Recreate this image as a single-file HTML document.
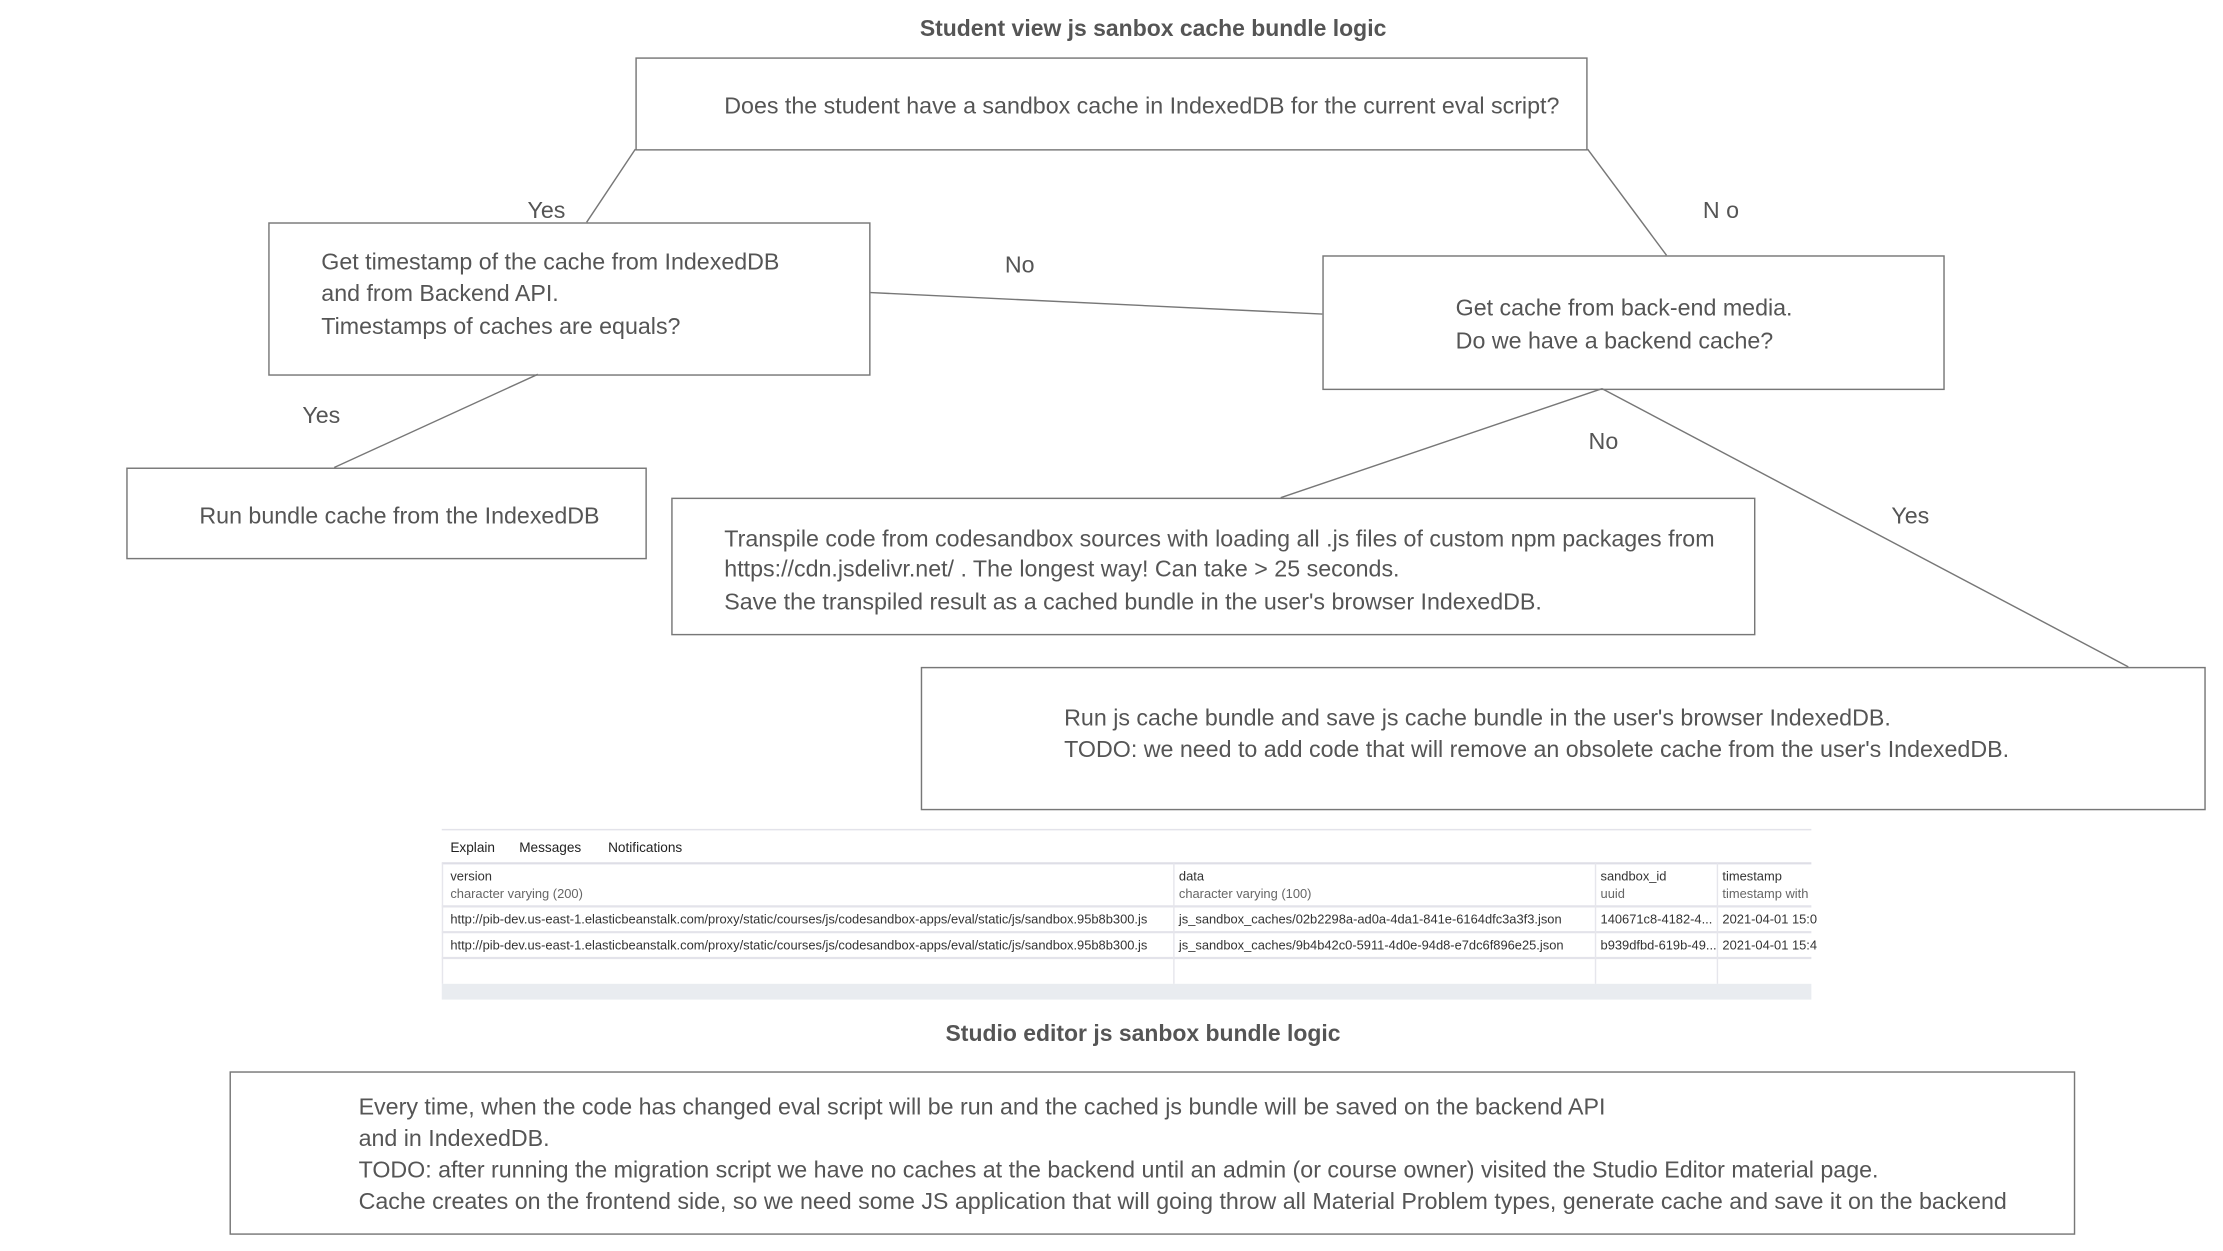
<!DOCTYPE html>
<html><head><meta charset="utf-8"><style>
html,body{margin:0;padding:0;background:#fff;}
svg{display:block}
text{font-family:"Liberation Sans",sans-serif;fill:#555;}
</style></head><body>
<svg width="2223" height="1251" viewBox="0 0 1550 872.3" xmlns="http://www.w3.org/2000/svg">
<rect width="1550" height="873" fill="#fff"/>
<g font-size="16.2">
<text x="804" y="25" text-anchor="middle" font-weight="bold" font-size="16">Student view js sanbox cache bundle logic</text>
<g fill="none" stroke="#777" stroke-width="1">
<rect x="443.5" y="40.5" width="663" height="64"/>
<rect x="187.5" y="155.5" width="419" height="106"/>
<rect x="922.5" y="178.5" width="433" height="93"/>
<rect x="88.5" y="326.5" width="362" height="63"/>
<rect x="468.5" y="347.5" width="755" height="95"/>
<rect x="642.5" y="465.5" width="895" height="99"/>
<rect x="160.5" y="747.5" width="1286" height="113"/>
<line x1="443" y1="104" x2="409" y2="155"/>
<line x1="1107" y1="104" x2="1162" y2="178"/>
<line x1="607" y1="204" x2="922" y2="219"/>
<line x1="375" y1="261" x2="233" y2="326"/>
<line x1="1117" y1="271" x2="893" y2="347"/>
<line x1="1117" y1="271" x2="1484" y2="465"/>
</g>
<text x="505" y="79">Does the student have a sandbox cache in IndexedDB for the current eval script?</text>
<text x="224" y="188">Get timestamp of the cache from IndexedDB</text>
<text x="224" y="210">and from Backend API.</text>
<text x="224" y="233">Timestamps of caches are equals?</text>
<text x="1015" y="220">Get cache from back-end media.</text>
<text x="1015" y="243">Do we have a backend cache?</text>
<text x="139" y="365">Run bundle cache from the IndexedDB</text>
<text x="505" y="381">Transpile code from codesandbox sources with loading all .js files of custom npm packages from</text>
<text x="505" y="402">https://cdn.jsdelivr.net/ . The longest way! Can take &gt; 25 seconds.</text>
<text x="505" y="425">Save the transpiled result as a cached bundle in the user's browser IndexedDB.</text>
<text x="742" y="506">Run js cache bundle and save js cache bundle in the user's browser IndexedDB.</text>
<text x="742" y="528">TODO: we need to add code that will remove an obsolete cache from the user's IndexedDB.</text>
<text x="381" y="152" text-anchor="middle">Yes</text>
<text x="1200" y="152" text-anchor="middle">N o</text>
<text x="711" y="190" text-anchor="middle">No</text>
<text x="224" y="295" text-anchor="middle">Yes</text>
<text x="1118" y="313" text-anchor="middle">No</text>
<text x="1332" y="365" text-anchor="middle">Yes</text>
<text x="797" y="726" text-anchor="middle" font-weight="bold" font-size="16">Studio editor js sanbox bundle logic</text>
<text x="250" y="777">Every time, when the code has changed eval script will be run and the cached js bundle will be saved on the backend API</text>
<text x="250" y="799">and in IndexedDB.</text>
<text x="250" y="821">TODO: after running the migration script we have no caches at the backend until an admin (or course owner) visited the Studio Editor material page.</text>
<text x="250" y="843">Cache creates on the frontend side, so we need some JS application that will going throw all Material Problem types, generate cache and save it on the backend</text>
</g>
<g>
<line x1="308" y1="578.5" x2="1263" y2="578.5" stroke="#e3e3ea"/>
<line x1="308" y1="602" x2="1263" y2="602" stroke="#dedee6" stroke-width="1.5"/>
<line x1="308" y1="632" x2="1263" y2="632" stroke="#e3e3ea" stroke-width="1.5"/>
<line x1="308" y1="650" x2="1263" y2="650" stroke="#e3e3ea" stroke-width="1.5"/>
<line x1="308" y1="668" x2="1263" y2="668" stroke="#e3e3ea" stroke-width="1.5"/>
<rect x="308" y="686" width="955" height="11" fill="#e9ecf0"/>
<g stroke="#e6e6ec"><line x1="818.5" y1="602" x2="818.5" y2="686"/><line x1="1112.5" y1="602" x2="1112.5" y2="686"/><line x1="1197.5" y1="602" x2="1197.5" y2="686"/><line x1="308.5" y1="602" x2="308.5" y2="686"/></g>
<g font-size="9.5">
<text x="314" y="594" style="fill:#222">Explain</text>
<text x="362" y="594" style="fill:#222">Messages</text>
<text x="424" y="594" style="fill:#222">Notifications</text>
</g>
<g font-size="9">
<text x="314" y="614" style="fill:#333">version</text>
<text x="314" y="626" style="fill:#666">character varying (200)</text>
<text x="822" y="614" style="fill:#333">data</text>
<text x="822" y="626" style="fill:#666">character varying (100)</text>
<text x="1116" y="614" style="fill:#333">sandbox_id</text>
<text x="1116" y="626" style="fill:#666">uuid</text>
<text x="1201" y="614" style="fill:#333">timestamp</text>
<text x="1201" y="626" style="fill:#666">timestamp with</text>
<text x="314" y="644" style="fill:#333">http://pib-dev.us-east-1.elasticbeanstalk.com/proxy/static/courses/js/codesandbox-apps/eval/static/js/sandbox.95b8b300.js</text>
<text x="822" y="644" style="fill:#333">js_sandbox_caches/02b2298a-ad0a-4da1-841e-6164dfc3a3f3.json</text>
<text x="1116" y="644" style="fill:#333">140671c8-4182-4...</text>
<text x="1201" y="644" style="fill:#333">2021-04-01 15:0</text>
<text x="314" y="662" style="fill:#333">http://pib-dev.us-east-1.elasticbeanstalk.com/proxy/static/courses/js/codesandbox-apps/eval/static/js/sandbox.95b8b300.js</text>
<text x="822" y="662" style="fill:#333">js_sandbox_caches/9b4b42c0-5911-4d0e-94d8-e7dc6f896e25.json</text>
<text x="1116" y="662" style="fill:#333">b939dfbd-619b-49...</text>
<text x="1201" y="662" style="fill:#333">2021-04-01 15:4</text>
</g>
</g>
</svg>
</body></html>
